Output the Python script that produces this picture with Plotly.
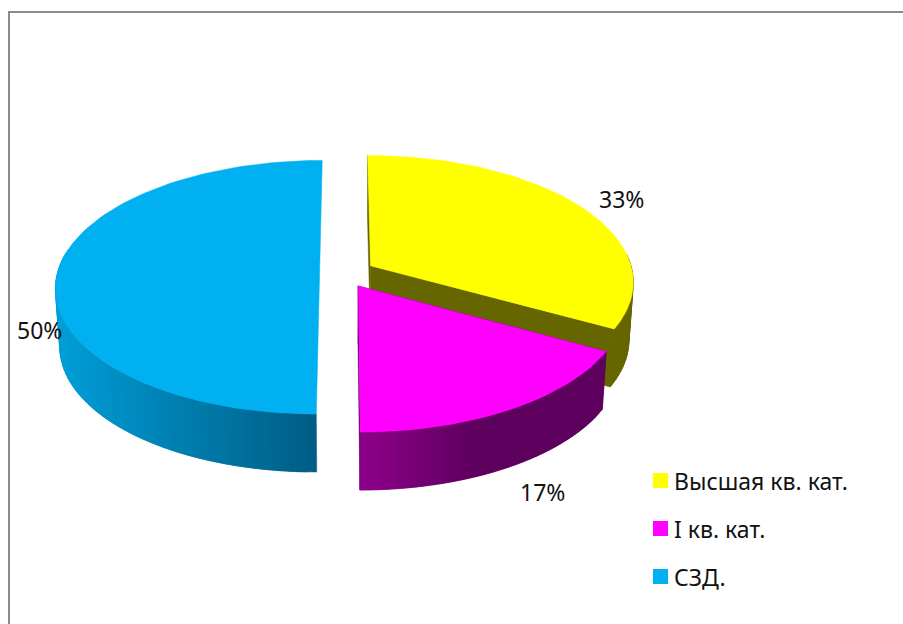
import math
import plotly.graph_objects as go

categories = ["Высшая кв. кат.", "I кв. кат.", "СЗД."]
shares = [33, 17, 50]
share_labels = ["33%", "17%", "50%"]

top_colors = ["#FFFF00", "#FF00FF", "#00B0F0"]
wall_light = [(102, 102, 0), (144, 0, 140), (0, 158, 216)]
wall_dark = [(102, 102, 0), (94, 0, 94), (0, 94, 134)]
# horizontal stretch of each side wall over which the shade runs (pixels)
shade_span = [(0, 1), (360, 480), (58, 317)]
radial_walls = [True, True, False]
# explosion of each slice, in pie radii
pull_x = [0.102, 0.0535, -0.093]
pull_y = [-0.05, 0.11, 0.0]

label_xy = [(621, 199), (542, 492), (39, 330)]
key_x = [660.5, 660.5, 660.5]
key_y = [480.5, 528.5, 576.5]
key_text_x = 672

VX, CY, R, RY, P, DEPTH = 344, 272, 262, 125, 0.12, 58


def project(x, y, z=0.0):
    s = 1 / (1 - P * y)
    return VX + R * x * s * (1 - 0.015 * z), CY + RY * y * s + DEPTH * z


def polar(theta, r, cx, cy):
    return cx + r * math.sin(theta), cy - r * math.cos(theta)


def poly(fig, pts, color):
    xs = [p[0] for p in pts] + [pts[0][0]]
    ys = [p[1] for p in pts] + [pts[0][1]]
    fig.add_trace(go.Scatter(x=xs, y=ys, mode="lines", fill="toself", fillcolor=color,
                             line=dict(color=color, width=0.5), hoverinfo="skip", showlegend=False))


fig = go.Figure()
total = sum(shares)
start = 0.0
for i, share in enumerate(shares):
    a0 = start
    a1 = start + 2 * math.pi * share / total
    start = a1
    cx, cy = pull_x[i], pull_y[i]
    n = max(10, int(share * 2))
    angles = [a0 + (a1 - a0) * k / n for k in range(n + 1)]
    rim = [polar(a, 1, cx, cy) for a in angles]

    if radial_walls[i]:
        for a_end in (a0, a1):
            ex, ey = polar(a_end, 1, cx, cy)
            poly(fig, [project(cx, cy), project(ex, ey), project(ex, ey, 1), project(cx, cy, 1)],
                 "rgb(%d,%d,%d)" % wall_dark[i])
    # outer wall, shaded across the front; the back of the rim is never seen
    lo, hi = shade_span[i]
    for k in range(n):
        if rim[k][1] < -0.13 and rim[k + 1][1] < -0.13:
            continue
        t = max(0.0, min(1.0, (project(*rim[k])[0] - lo) / (hi - lo)))
        col = tuple(int(wall_light[i][c] + (wall_dark[i][c] - wall_light[i][c]) * t) for c in range(3))
        j = min(k + 2, n)
        poly(fig, [project(*rim[k]), project(*rim[j]), project(*rim[j], 1), project(*rim[k], 1)],
             "rgb(%d,%d,%d)" % col)
    # top face
    poly(fig, [project(cx, cy)] + [project(*p) for p in rim], top_colors[i])

fig.add_trace(go.Scatter(x=key_x, y=key_y, mode="markers", hoverinfo="skip", showlegend=False,
                         marker=dict(symbol="square", size=15, color=top_colors, line=dict(width=0))))

font = dict(family="Noto Sans", size=23, color="#111111")
annotations = [dict(x=x, y=y, text=t, showarrow=False, xref="x", yref="y", font=font)
               for (x, y), t in zip(label_xy, share_labels)]
annotations += [dict(x=key_text_x, y=y, text=t, showarrow=False, xref="x", yref="y",
                     xanchor="left", font=font)
                for y, t in zip(key_y, categories)]

fig.update_layout(
    width=903, height=624, margin=dict(l=0, r=0, t=0, b=0),
    paper_bgcolor="white", plot_bgcolor="white", showlegend=False,
    xaxis=dict(range=[0, 903], visible=False, fixedrange=True),
    yaxis=dict(range=[624, 0], visible=False, fixedrange=True),
    annotations=annotations,
    shapes=[dict(type="rect", x0=9, y0=12, x1=920, y1=640, line=dict(color="#8C8C8C", width=2))],
)
fig.write_html("out.html", post_script="document.body.style.margin='0';",
               config=dict(displayModeBar=False))
